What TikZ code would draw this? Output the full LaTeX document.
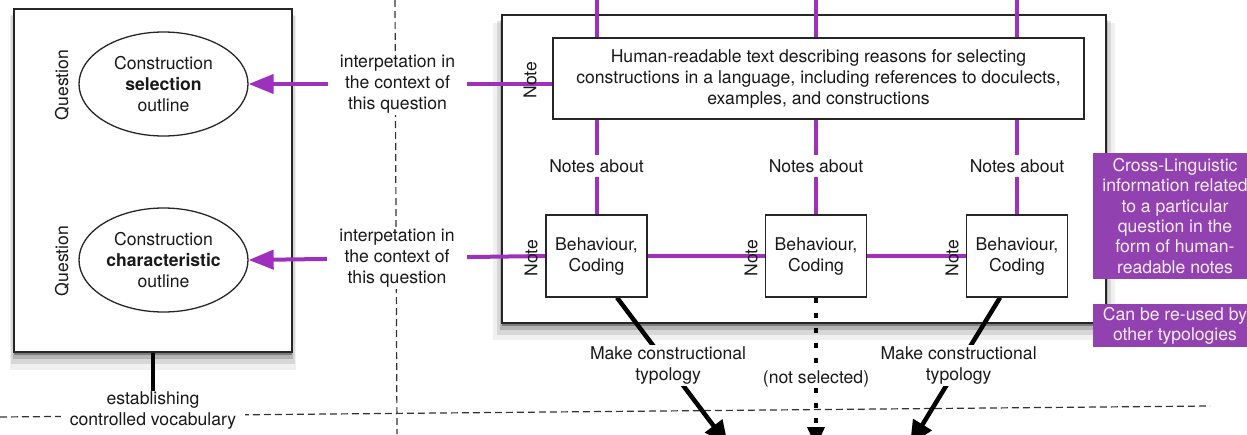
\documentclass[tikz,border=0pt]{standalone}
\usepackage{fontspec}
\setmainfont{TeX Gyre Heros}
\usetikzlibrary{arrows.meta,shapes.geometric,shadows,calc}
\pgfdeclarelayer{back}
\pgfdeclarelayer{mid}
\pgfsetlayers{back,mid,main}
\definecolor{pline}{RGB}{158,48,190}
\definecolor{pboxcol}{RGB}{146,66,176}
\definecolor{ptext}{RGB}{246,236,250}
\definecolor{txt}{RGB}{25,25,25}
\begin{document}
\begin{tikzpicture}[x=1pt,y=-1pt,
  every node/.style={font=\fontsize{17.6}{21}\selectfont, text=txt, align=center},
  boxshadow/.style={
    general shadow={fill=black,opacity=.06,shadow yshift=-12pt,shadow scale=1.03},
    general shadow={fill=black,opacity=.10,shadow yshift=-9pt,shadow scale=1.018},
    general shadow={fill=black,opacity=.16,shadow yshift=-6pt,shadow scale=1.008},
    general shadow={fill=black,opacity=.30,shadow yshift=-3pt}},
  bigbox/.style={draw=black!85, line width=1.6pt, fill=white, boxshadow, inner sep=0pt},
  plainbox/.style={draw=black!85, line width=1.2pt, fill=white, inner sep=0pt},
  outl/.style={ellipse, draw=black!85, line width=1.3pt, fill=white, minimum width=169pt, minimum height=104pt, inner sep=0pt},
  rot/.style={rotate=90, inner sep=0pt},
  lab/.style={fill=white, inner xsep=3pt, inner ysep=2pt},
  pl/.style={draw=pline, line width=4pt},
  parrow/.style={pl, -{Triangle[length=25pt,width=19pt]}},
  blk/.style={draw=black, line width=4.5pt, -{Triangle[length=24pt,width=21pt]}},
  dotl/.style={draw=black, line width=3.5pt, dash pattern=on 5pt off 10pt, -{Triangle[length=20pt,width=17pt]}},
  dashline/.style={draw=black!80, line width=1.2pt, dash pattern=on 7pt off 4pt},
  pbox/.style={fill=pboxcol, text=ptext, inner sep=0pt, font=\fontsize{17.6}{20.3}\selectfont}
]
\useasboundingbox (0,0) rectangle (1247,434);

% coordinates
\coordinate (hl) at (0,417);
\coordinate (hr) at (1210,406);
\coordinate (vt) at (395,0);
\coordinate (vb) at (397,434);
\coordinate (a1) at (728,445);
\coordinate (a2) at (816,447);
\coordinate (a3) at (910,445);

% background layer: dashed separators and large boxes
\begin{pgfonlayer}{back}
\fill[white] (0,0) rectangle (1247,434);
\draw[dashline] (hl) -- (hr);
\draw[dashline] (vt) -- (vb);
\node[bigbox, minimum width=278pt, minimum height=343pt] (L) at (153,180.5) {};
\node[bigbox, minimum width=604pt, minimum height=308pt] (R) at (804,169) {};
\end{pgfonlayer}

% left box content
\node[outl] (e1) at (163.5,84) {Construction\\\textbf{selection}\\outline};
\node[outl] (e2) at (163.5,260) {Construction\\\textbf{characteristic}\\outline};
\node[rot] (q1) at (62,85) {Question};
\node[rot] (q2) at (62,261) {Question};

% right box content
\node[plainbox, minimum width=531pt, minimum height=81pt] (nt) at (818.5,78.5)
  {Human-readable text describing reasons for selecting\\constructions in a language, including references to doculects,\\examples, and constructions};
\node[plainbox, minimum width=101pt, minimum height=82pt] (b1) at (596.5,256) {Behaviour,\\Coding};
\node[plainbox, minimum width=101pt, minimum height=82pt] (b2) at (816,256) {Behaviour,\\Coding};
\node[plainbox, minimum width=101pt, minimum height=82pt] (b3) at (1017,256) {Behaviour,\\Coding};

\node[rot] (n0) at (530,80) {Note};
\node[rot] (n1) at (531,258) {Note};
\node[rot] (n2) at (751,258) {Note};
\node[rot] (n3) at (952,258) {Note};

% purple side boxes
\node[pbox, minimum width=164pt, minimum height=126pt] (c1) at (1175,216)
  {Cross-Linguistic\\information related\\to a particular\\question in the\\form of human-\\readable notes};
\node[pbox, minimum width=164pt, minimum height=43pt] (c2) at (1175,325.5)
  {Can be re-used by\\other typologies};

% connectors
\begin{pgfonlayer}{mid}
\draw[pl] (b1.north |- 0,0) -- (b1.north);
\draw[pl] (b2.north |- 0,0) -- (b2.north);
\draw[pl] (b3.north |- 0,0) -- (b3.north);
\node[lab, inner ysep=4pt] (na1) at (b1.north |- 0,166) {Notes about};
\node[lab, inner ysep=4pt] (na2) at (b2.north |- 0,166) {Notes about};
\node[lab, inner ysep=4pt] (na3) at (b3.north |- 0,166) {Notes about};

\draw[parrow] (nt.west |- e1.east) -- (e1.east)
  node[lab, inner xsep=12pt, pos=0.51] (i1) {interpetation in\\the context of\\this question};
\draw[parrow] (b1.west) -- (e2.east)
  node[lab, inner xsep=12pt, pos=0.5] (i2) {interpetation in\\the context of\\this question};
\draw[pl] (b1.east) -- (b2.west);
\draw[pl] (b2.east) -- (b3.west);

\draw[blk] ($(b1.south)+(20.5,0)$) -- (a1)
  node[lab, pos=0.46] (m1) {Make constructional\\typology};
\draw[dotl] (b2.south) -- (a2)
  node[lab, inner xsep=1pt, inner ysep=1pt, pos=0.545] (ns) {(not selected)};
\draw[blk] ($(b3.south)+(-17,0)$) -- (a3)
  node[lab, pos=0.46] (m3) {Make constructional\\typology};

\draw[draw=black, line width=4pt] (L.south) -- ++(0,38) coordinate (lv);
\node[lab, inner xsep=9pt, inner ysep=1pt, anchor=north] (voc) at (lv) {establishing\\controlled vocabulary};
\end{pgfonlayer}
\end{tikzpicture}
\end{document}
